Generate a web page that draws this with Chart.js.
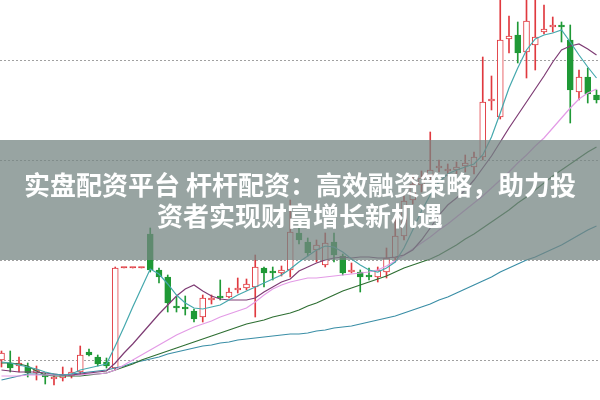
<!DOCTYPE html>
<html lang="zh">
<head>
<meta charset="UTF-8">
<title>K线走势</title>
<script src="https://cdn.jsdelivr.net/npm/chart.js"></script>
<style>
  html, body { margin: 0; padding: 0; background: #fff; }
  #wrap { width: 600px; height: 400px; }
</style>
</head>
<body>
<div id="wrap"><canvas id="kline" width="600" height="400"></canvas></div>
<script>
// 日K数据（开、高、低、收）
const openP  = [4.0,3.7,3.4,3.3,2.7,2.5,2.1,2.2,2.4,2.8,4.8,4.3,3.8,3.2,13.2,13.2,13.2,16.6,13.0,12.3,9.4,9.3,8.9,8.3,10.0,10.4,10.3,11.0,11.2,11.3,13.2,12.9,12.7,13.0,16.7,15.8,15.0,13.5,15.8,14.4,12.8,12.8,12.5,12.3,12.8,14.2,16.4,20.0,21.5,22.5,23.2,22.9,23.0,23.4,23.3,24.3,29.9,28.3,36.1,36.5,34.8,35.5,36.8,37.3,37.5,36.0,30.8,32.3,30.5];
const highP  = [4.9,4.9,4.3,3.7,3.4,2.7,2.5,3.3,3.2,5.4,5.1,4.5,4.2,13.3,13.2,13.2,13.2,17.2,13.2,12.5,10.3,10.4,9.1,10.5,10.5,12.0,11.2,12.2,12.1,14.5,13.3,13.3,13.4,20.0,17.5,16.2,16.0,16.7,16.7,14.6,13.7,13.0,13.2,13.3,15.2,18.3,20.4,22.5,22.9,26.8,24.0,23.6,23.8,24.5,24.8,34.3,32.4,40.5,38.4,37.8,40.2,40.2,39.5,38.3,37.8,37.5,33.0,33.2,31.0];
const lowP   = [3.3,2.8,2.8,2.3,2.0,1.6,1.5,1.9,2.2,2.6,4.4,3.4,3.2,3.0,13.2,13.2,13.2,12.8,11.7,8.8,8.8,8.5,7.8,7.8,9.6,10.0,10.2,10.7,11.0,8.3,11.3,12.0,12.4,12.3,15.6,14.4,13.8,13.3,13.8,12.5,12.7,10.8,12.0,11.8,12.2,13.8,16.0,19.6,20.8,22.0,22.8,22.4,22.6,22.8,22.6,24.0,29.0,28.1,34.7,33.7,32.2,33.0,36.6,36.8,35.8,27.7,30.0,29.7,29.7];
const closeP = [4.7,3.2,3.7,2.7,3.0,2.3,2.3,2.5,2.8,4.5,4.5,3.6,3.4,13.2,13.2,13.2,13.2,13.0,12.3,9.7,9.2,9.1,8.1,10.2,10.2,10.2,10.8,11.2,11.6,13.3,12.7,12.7,13.0,16.8,16.0,14.7,15.5,15.7,14.5,12.7,13.0,12.3,12.3,13.0,14.2,16.4,19.9,21.6,22.2,23.0,23.4,23.1,23.3,23.7,24.3,29.8,30.1,36.0,36.4,34.7,37.9,36.3,37.1,37.5,37.3,31.0,32.3,30.6,30.0];

// 均线（读自图中）
const ma5  = [3.8,3.7,3.5,3.3,3.1,2.8,2.6,2.5,2.6,3.0,3.2,3.4,3.6,5.4,7.3,9.3,11.2,13.1,12.6,11.6,10.5,9.7,9.2,9.1,9.3,9.5,10.0,10.5,10.9,11.3,11.7,12.1,12.5,13.1,13.8,14.4,15.0,15.4,15.3,14.8,14.1,13.5,13.0,12.8,13.2,13.8,15.2,17.0,18.9,20.5,21.8,22.6,23.0,23.3,23.6,24.5,26.3,28.7,31.2,33.2,35.0,36.1,36.5,36.7,37.0,35.8,34.5,33.3,32.2];
const ma10 = [3.0,2.9,2.8,2.8,2.8,2.7,2.6,2.5,2.5,2.6,2.7,2.8,2.9,3.7,4.7,5.6,6.6,7.6,8.6,9.5,10.4,11.1,11.5,10.9,10.4,10.1,10.0,10.0,10.0,10.2,10.8,11.3,11.8,12.1,12.9,13.3,13.7,14.0,14.2,14.3,14.2,14.3,14.3,14.2,14.2,14.3,14.5,15.0,16.0,17.2,18.5,19.5,20.2,21.0,22.0,23.2,24.4,25.8,27.2,28.5,29.8,31.1,32.4,33.8,35.0,35.4,35.6,35.1,34.5];
const ma20 = [2.4,2.4,2.4,2.5,2.5,2.5,2.5,2.5,2.5,2.5,2.6,2.6,2.7,3.0,3.5,4.0,4.5,5.0,5.5,6.0,6.5,6.9,7.3,7.6,7.9,8.3,8.6,8.9,9.2,9.8,10.5,11.1,11.5,11.8,12.0,12.2,12.2,12.3,12.4,12.5,12.6,12.7,12.8,13.0,13.4,13.9,14.5,15.1,15.7,16.3,17.0,17.6,18.3,19.0,19.7,20.4,21.2,22.0,22.8,23.7,24.5,25.4,26.2,27.2,28.2,29.2,30.1,30.7,31.1];
const ma30 = [3.7,3.7,3.6,3.4,2.9,2.5,2.4,2.4,2.4,2.4,2.5,2.6,2.7,3.0,3.3,3.6,4.0,4.3,4.6,4.9,5.2,5.5,5.8,6.1,6.4,6.7,7.0,7.3,7.6,7.8,8.0,8.3,8.5,8.7,9.0,9.4,9.7,10.1,10.5,10.9,11.2,11.5,11.8,12.1,12.4,12.8,13.2,13.5,13.8,14.1,14.5,15.0,15.5,16.1,16.6,17.2,17.8,18.4,19.0,19.7,20.3,21.0,21.7,22.4,23.0,23.6,24.2,24.8,25.3];
const ma60 = [2.0,2.2,2.4,2.6,2.6,2.5,2.5,2.5,2.6,2.7,2.8,2.9,3.0,3.2,3.4,3.7,3.9,4.1,4.3,4.6,4.8,5.0,5.2,5.4,5.5,5.7,5.8,6.0,6.1,6.2,6.3,6.4,6.5,6.6,6.6,6.7,6.9,7.0,7.2,7.3,7.4,7.6,7.8,8.0,8.2,8.4,8.7,9.0,9.3,9.6,10.0,10.3,10.7,11.1,11.5,11.9,12.3,12.8,13.2,13.6,14.0,14.3,14.7,15.1,15.5,16.0,16.5,17.0,17.4];

const gridValues = [4, 14, 24, 34];
const bannerLines = ["实盘配资平台 杆杆配资：高效融资策略，助力投", "资者实现财富增长新机遇"];

const UP = '#e0393f';
const DOWN = '#1f9936';
const days = openP.map((_, i) => i);
const candleColor = days.map(i => closeP[i] >= openP[i] ? UP : DOWN);
const bodyFill = days.map(i => {
  if (closeP[i] < openP[i]) return DOWN;
  return closeP[i] === openP[i] ? UP : '#ffffff';
});

function maLine(label, values, color) {
  return {
    type: 'line',
    label: label,
    data: days.map(i => ({ x: i, y: values[i] })),
    borderColor: color,
    borderWidth: 1.2,
    pointRadius: 0,
    tension: 0,
    order: 1
  };
}

const gridPlugin = {
  id: 'dottedGrid',
  beforeDatasetsDraw(chart) {
    const ctx = chart.ctx;
    const y = chart.scales.y;
    ctx.save();
    ctx.strokeStyle = '#a0a0a0';
    ctx.lineWidth = 1;
    ctx.setLineDash([2, 2]);
    gridValues.forEach(v => {
      const py = Math.round(y.getPixelForValue(v)) + 0.5;
      ctx.beginPath();
      ctx.moveTo(0, py);
      ctx.lineTo(chart.width, py);
      ctx.stroke();
    });
    ctx.restore();
  }
};

const bannerPlugin = {
  id: 'banner',
  afterDraw(chart) {
    const ctx = chart.ctx;
    const w = chart.width, h = chart.height;
    ctx.save();
    ctx.fillStyle = 'rgba(118, 134, 131, 0.75)';
    ctx.fillRect(0, h * 0.35, w, h * 0.3);
    ctx.fillStyle = '#ffffff';
    ctx.font = 'bold 26px "Noto Sans CJK SC", sans-serif';
    ctx.textAlign = 'center';
    ctx.textBaseline = 'middle';
    ctx.fillText(bannerLines[0], w / 2, h * 0.4625);
    ctx.fillText(bannerLines[1], w / 2, h * 0.54);
    ctx.restore();
  }
};

new Chart(document.getElementById('kline'), {
  type: 'bar',
  data: {
    datasets: [
      maLine('MA5', ma5, '#45a8ad'),
      maLine('MA10', ma10, '#7e3c74'),
      maLine('MA20', ma20, '#e39be6'),
      maLine('MA30', ma30, '#2f6f33'),
      maLine('MA60', ma60, '#3a8ea6'),
      {
        label: 'body',
        data: days.map(i => ({ x: i, y: [openP[i], closeP[i]] })),
        backgroundColor: bodyFill,
        borderColor: candleColor,
        borderWidth: 1,
        borderSkipped: false,
        barThickness: 6,
        minBarLength: 1.5,
        grouped: false,
        order: 2
      },
      {
        label: 'wick',
        data: days.map(i => ({ x: i, y: [lowP[i], highP[i]] })),
        backgroundColor: candleColor,
        barThickness: 1,
        grouped: false,
        order: 3
      }
    ]
  },
  options: {
    responsive: false,
    animation: false,
    layout: { padding: 0 },
    plugins: {
      legend: { display: false },
      tooltip: { enabled: false }
    },
    scales: {
      x: { type: 'linear', min: -0.17, max: 68.4, offset: false, display: false },
      y: { min: 0, max: 40, display: false }
    }
  },
  plugins: [gridPlugin, bannerPlugin]
});
</script>
</body>
</html>
